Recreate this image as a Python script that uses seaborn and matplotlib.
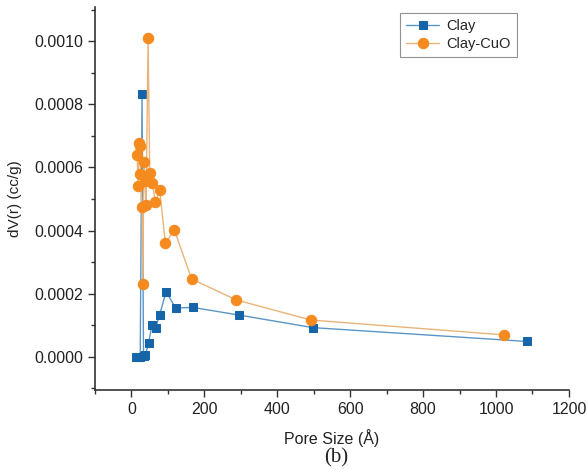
import seaborn as sns
import matplotlib.pyplot as plt
from matplotlib.ticker import MultipleLocator, FormatStrFormatter

sns.set_theme(style="ticks")
plt.rcParams['font.family'] = ['Liberation Sans', 'DejaVu Sans']

# pore size (A) and dV(r) (cc/g)
clay_x = [12, 18, 24, 29, 33, 38, 47, 56, 66, 77, 95, 121, 168, 294, 497, 1085]
clay_y = [0.0, 0.0, 0.0, 8.33e-4, 0.02e-4, 0.05e-4, 0.42e-4, 1.0e-4, 0.9e-4,
          1.32e-4, 2.06e-4, 1.54e-4, 1.56e-4, 1.32e-4, 0.92e-4, 0.48e-4]

cuo_x = [15.5, 18, 20, 23, 24.6, 29, 31, 34, 37, 40, 45.6, 50, 56.6, 65.7,
         77.5, 93, 117.6, 165, 287, 492, 1021]
cuo_y = [6.4e-4, 5.4e-4, 6.79e-4, 6.67e-4, 5.8e-4, 4.74e-4, 2.3e-4, 6.17e-4,
         5.56e-4, 4.82e-4, 10.1e-4, 5.84e-4, 5.5e-4, 4.92e-4, 5.27e-4, 3.6e-4,
         4.02e-4, 2.46e-4, 1.8e-4, 1.16e-4, 0.69e-4]

fig = plt.figure(figsize=(5.88, 4.70), dpi=100)
ax = fig.add_axes([0.1616, 0.1702, 0.806, 0.8155])

sns.lineplot(x=clay_x, y=clay_y, ax=ax, estimator=None, sort=False,
             color='#5b95c6', linewidth=1.0, marker='s', markersize=6,
             markerfacecolor='#1565a8', markeredgecolor='#1565a8', label='Clay')
sns.lineplot(x=cuo_x, y=cuo_y, ax=ax, estimator=None, sort=False,
             color='#e8b47a', linewidth=1.0, marker='o', markersize=7.5,
             markerfacecolor='#f58a1f', markeredgecolor='#f58a1f', label='Clay-CuO')

ax.set_xlim(-100, 1200)
ax.set_ylim(-0.000106, 0.00111)
ax.xaxis.set_major_locator(MultipleLocator(200))
ax.xaxis.set_minor_locator(MultipleLocator(100))
ax.yaxis.set_major_locator(MultipleLocator(0.0002))
ax.yaxis.set_minor_locator(MultipleLocator(0.0001))
ax.yaxis.set_major_formatter(FormatStrFormatter('%.4f'))
ax.tick_params(which='major', length=5, width=1, color='#333333', labelsize=11.5,
               labelcolor='#222222')
ax.tick_params(which='minor', length=3, width=1, color='#333333')
for s in ['top', 'right']:
    ax.spines[s].set_visible(False)
for s in ['left', 'bottom']:
    ax.spines[s].set_color('#333333')
    ax.spines[s].set_linewidth(1.2)

ax.set_xlabel("Pore Size (Å)", fontsize=11.5, labelpad=9, color='#222222')
ax.set_ylabel("dV(r) (cc/g)", fontsize=11, labelpad=9, color='#222222')

leg = ax.legend(loc='upper right', bbox_to_anchor=(0.89, 0.984), borderaxespad=0,
                fancybox=False, frameon=True, edgecolor='#777777', fontsize=10.5,
                handlelength=2.3, handletextpad=0.5, borderpad=0.4,
                labelspacing=0.3)
leg.get_frame().set_linewidth(0.8)

fig.text(0.571, 0.026, "(b)", fontsize=15, family=['Liberation Serif'],
         ha='center', va='center', color='#222222')

fig.savefig("out.png", dpi=100)
